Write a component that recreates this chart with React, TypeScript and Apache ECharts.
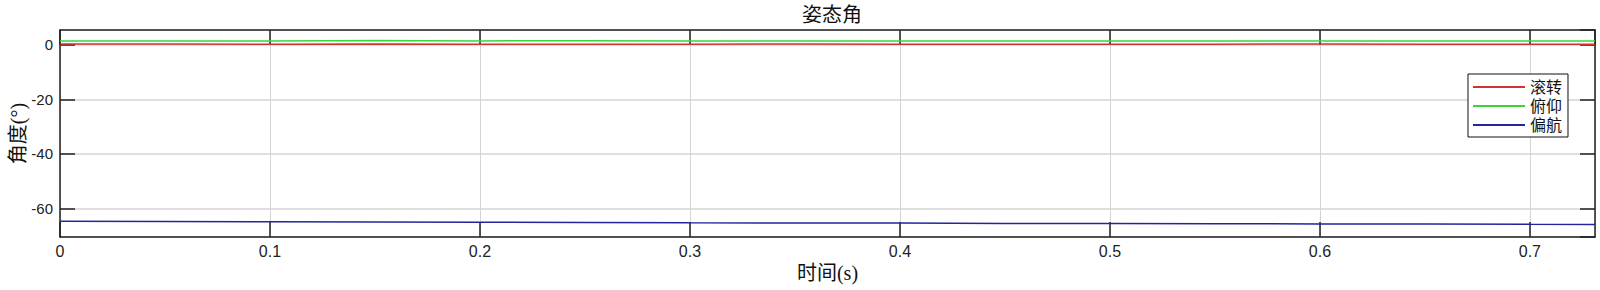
import React, { useEffect, useRef } from "react";
import * as echarts from "echarts";

const times = [0, 0.05, 0.1, 0.15, 0.2, 0.25, 0.3, 0.35, 0.4, 0.45, 0.5, 0.55, 0.6, 0.65, 0.7, 0.731];
const rollValues = [0.4, 0.35, 0.3, 0.35, 0.25, 0.3, 0.3, 0.35, 0.3, 0.3, 0.25, 0.3, 0.35, 0.3, 0.3, 0.3];
const pitchValues = [1.5, 1.5, 1.5, 1.6, 1.5, 1.55, 1.5, 1.5, 1.5, 1.5, 1.5, 1.5, 1.5, 1.5, 1.5, 1.5];
const yawValues = [-64.7, -64.8, -64.9, -65.0, -65.1, -65.2, -65.3, -65.35, -65.4, -65.5, -65.55, -65.6, -65.7, -65.75, -65.85, -65.9];
const seriesNames = ["滚转", "俯仰", "偏航"];
const seriesColors = ["#d03434", "#36d836", "#24249e"];

const serif = "'Liberation Serif', 'Noto Sans CJK SC', serif";
const sans = "'Liberation Sans', Arial, sans-serif";

export default function App() {
  const ref = useRef<HTMLDivElement>(null);
  useEffect(() => {
    if (!ref.current) return;
    const chart = echarts.init(ref.current, null, { renderer: "svg" });
    const all = [rollValues, pitchValues, yawValues];
    const frameAxisLine = { show: true, onZero: false, lineStyle: { color: "#222", width: 1.5 } };
    const frameTick = { show: true, inside: true, length: 15, lineStyle: { color: "#222", width: 1.5 } };
    chart.setOption({
      animation: false,
      backgroundColor: "#fff",
      title: {
        text: "姿态角",
        left: 827,
        top: 0,
        textAlign: "center",
        textStyle: { fontFamily: serif, fontSize: 20, fontWeight: "normal", color: "#111" },
      },
      legend: {
        orient: "vertical",
        right: 32,
        top: 74,
        icon: "rect",
        itemWidth: 52,
        itemHeight: 2,
        itemGap: 3,
        padding: [5, 6, 4, 5],
        borderColor: "#111",
        borderWidth: 1,
        backgroundColor: "#fff",
        textStyle: { fontFamily: serif, fontSize: 16, color: "#111" },
        data: seriesNames,
      },
      grid: { left: 60, right: 5, top: 30, bottom: 53, show: false, containLabel: false, outerBoundsMode: "none" },
      xAxis: [
        {
          type: "value",
          min: 0,
          max: 0.731,
          interval: 0.1,
          name: "时间(s)",
          nameLocation: "middle",
          nameGap: 26,
          nameMoveOverlap: false,
          nameTextStyle: { fontFamily: serif, fontSize: 20, color: "#111" },
          axisLine: frameAxisLine,
          axisTick: frameTick,
          axisLabel: { fontFamily: sans, fontSize: 16, color: "#222", margin: 6, showMaxLabel: false },
          splitLine: { show: true, lineStyle: { color: "#d4d4d4", width: 1 } },
        },
        {
          type: "value",
          position: "top",
          min: 0,
          max: 0.731,
          interval: 0.1,
          axisLine: frameAxisLine,
          axisTick: frameTick,
          axisLabel: { show: false },
          splitLine: { show: false },
        },
      ],
      yAxis: [
        {
          type: "value",
          min: -70.5,
          max: 5.5,
          name: "角度(°)",
          nameLocation: "middle",
          nameGap: 32,
          nameMoveOverlap: false,
          nameTextStyle: { fontFamily: serif, fontSize: 20, color: "#111" },
          axisLine: frameAxisLine,
          axisTick: frameTick,
          axisLabel: { fontFamily: sans, fontSize: 15, color: "#222", margin: 7, showMinLabel: false, showMaxLabel: false },
          splitLine: { show: true, lineStyle: { color: "#d4d4d4", width: 1.5 } },
        },
        {
          type: "value",
          position: "right",
          min: -70.5,
          max: 5.5,
          axisLine: frameAxisLine,
          axisTick: frameTick,
          axisLabel: { show: false },
          splitLine: { show: false },
        },
      ],
      series: seriesNames.map((name, i) => ({
        name,
        type: "line",
        xAxisIndex: 0,
        yAxisIndex: 0,
        showSymbol: false,
        symbol: "none",
        lineStyle: { color: seriesColors[i], width: 1.5 },
        itemStyle: { color: seriesColors[i] },
        data: times.map((t, k) => [t, all[i][k]]),
      })),
    });
    return () => chart.dispose();
  }, []);
  return (
    <div
      ref={ref}
      style={{ position: "fixed", left: 0, top: 0, width: 1600, height: 290 }}
    />
  );
}
